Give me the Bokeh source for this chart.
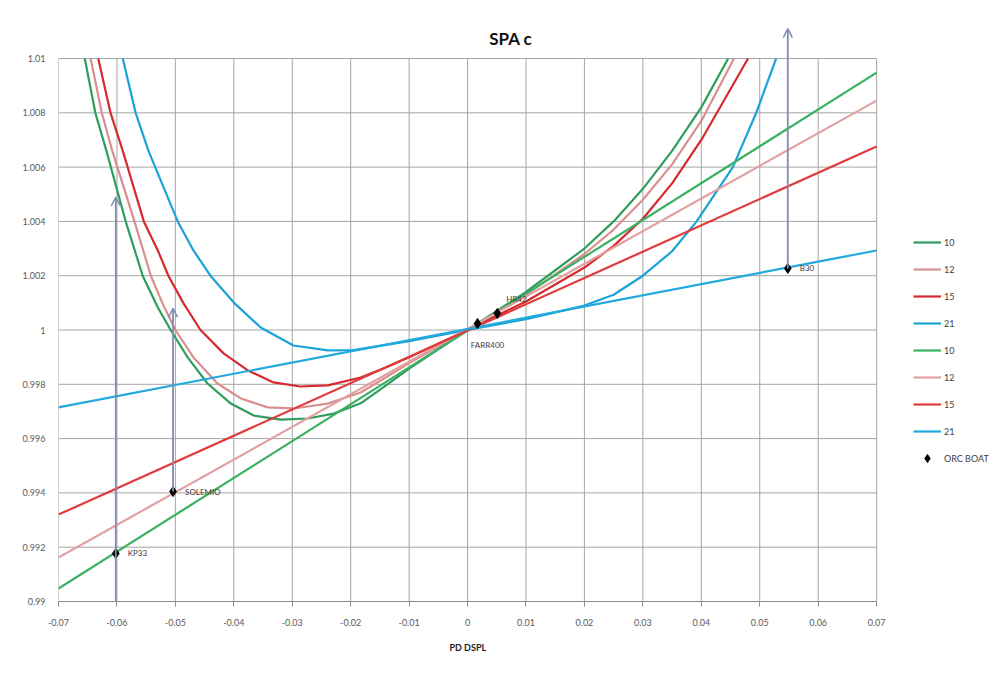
from bokeh.plotting import figure
from bokeh.models import (Range1d, FixedTicker, Legend, LegendItem, Arrow, OpenHead, Label, Title)
from bokeh.embed import file_html
from bokeh.resources import INLINE

# ---------------- data ----------------
chart_title = "SPA c"
x_title = "PD DSPL"
series_names = ["10", "12", "15", "21"]
marker_name = "ORC BOAT"

x_ticks = [-0.07, -0.06, -0.05, -0.04, -0.03, -0.02, -0.01, 0.0, 0.01, 0.02, 0.03, 0.04, 0.05, 0.06, 0.07]
x_tick_labels = ["-0.07", "-0.06", "-0.05", "-0.04", "-0.03", "-0.02", "-0.01", "0",
                 "0.01", "0.02", "0.03", "0.04", "0.05", "0.06", "0.07"]
y_ticks = [0.99, 0.992, 0.994, 0.996, 0.998, 1.0, 1.002, 1.004, 1.006, 1.008, 1.01]
y_tick_labels = ["0.99", "0.992", "0.994", "0.996", "0.998", "1", "1.002", "1.004", "1.006", "1.008", "1.01"]

# curved series
curve_x_10 = [-0.0655, -0.0637, -0.0618, -0.0585, -0.0556, -0.0530, -0.0508, -0.0479, -0.0445, -0.0405,
              -0.0366, -0.0320, -0.0274, -0.0229, -0.0183, -0.0140, -0.0100, 0.0,
              0.0100, 0.0200, 0.0250, 0.0300, 0.0350, 0.0400, 0.0446]
curve_y_10 = [1.010, 1.008, 1.0066, 1.004, 1.002, 1.00083, 1.000, 0.99899, 0.99803, 0.99729,
              0.99685, 0.9967, 0.99674, 0.99692, 0.9973, 0.99795, 0.99858, 1.0,
              1.0014, 1.0030, 1.0040, 1.0052, 1.0066, 1.0082, 1.010]
curve_x_12 = [-0.0645, -0.0626, -0.0608, -0.0570, -0.0542, -0.0522, -0.0500, -0.0469, -0.0428, -0.0388,
              -0.0342, -0.0298, -0.0239, -0.0183, -0.0140, -0.0100, 0.0,
              0.0100, 0.0200, 0.0250, 0.0300, 0.0350, 0.0400, 0.0456]
curve_y_12 = [1.010, 1.008, 1.0066, 1.004, 1.002, 1.00098, 1.000, 0.99899, 0.99803, 0.99748,
              0.99715, 0.99711, 0.99729, 0.9977, 0.99825, 0.99878, 1.0,
              1.0013, 1.0028, 1.0037, 1.0048, 1.0061, 1.0077, 1.010]
curve_x_15 = [-0.0632, -0.0611, -0.0590, -0.0554, -0.0530, -0.0512, -0.0486, -0.0457, -0.0417, -0.0376,
              -0.0332, -0.0286, -0.0239, -0.0183, -0.0140, -0.0100, 0.0,
              0.0100, 0.0200, 0.0250, 0.0300, 0.0350, 0.0400, 0.0440, 0.0480]
curve_y_15 = [1.010, 1.008, 1.0066, 1.004, 1.00293, 1.002, 1.00098, 1.000, 0.99913, 0.99851,
              0.99807, 0.99792, 0.99796, 0.99825, 0.99862, 0.999, 1.0,
              1.00105, 1.0023, 1.0031, 1.0041, 1.0054, 1.0070, 1.0085, 1.010]
curve_x_21 = [-0.0590, -0.0568, -0.0546, -0.0496, -0.0469, -0.0440, -0.0400, -0.0354, -0.0298, -0.0239,
              -0.0195, -0.0100, 0.0,
              0.0100, 0.0200, 0.0250, 0.0300, 0.0350, 0.0392, 0.0454, 0.0494, 0.0528]
curve_y_21 = [1.010, 1.008, 1.0066, 1.004, 1.00293, 1.002, 1.00101, 1.00009, 0.99943, 0.99925,
              0.99926, 0.99959, 1.0,
              1.0004, 1.0009, 1.0013, 1.0020, 1.0029, 1.0040, 1.0060, 1.0080, 1.010]

# straight series (values at the two ends of the x range)
line_x = [-0.07, 0.07]
line_y_10 = [0.99048, 1.00948]
line_y_12 = [0.99162, 1.00845]
line_y_15 = [0.9932, 1.00676]
line_y_21 = [0.99715, 1.00293]

# boats
boat_names = ["KP33", "SOLEMIO", "FARR400", "HR42", "B30"]
boat_x = [-0.0602, -0.0504, 0.0017, 0.0051, 0.0548]
boat_y = [0.99177, 0.99405, 1.00024, 1.00061, 1.00227]

# arrows (x, y start, y end)
arrow_x = [-0.0602, -0.0504, 0.0548]
arrow_y0 = [0.99, 0.99405, 1.00227]
arrow_y1 = [1.0049, 1.0008, 1.0111]

# ---------------- styles ----------------
curve_colors = ["#2f9e5c", "#d98f8f", "#d62a2e", "#1aa3d6"]
line_colors = ["#3bb062", "#e3a0a0", "#e03a3a", "#22a9de"]
FONT = "Lato"
grid_color = "#a6a6a6"
text_color = "#404040"

# the frame reaches past the last ticks (right: legend room, top: title and arrow room);
# axis and grid lines are limited to the tick span
p = figure(width=1005, height=676,
           x_range=Range1d(-0.07, 0.0912), y_range=Range1d(0.99, 1.0114),
           output_backend="svg", toolbar_location=None,
           min_border_left=58, min_border_right=5, min_border_top=20, min_border_bottom=75)

p.background_fill_color = "white"
p.border_fill_color = "white"
p.outline_line_color = None

p.xaxis.ticker = FixedTicker(ticks=x_ticks)
p.yaxis.ticker = FixedTicker(ticks=y_ticks)
p.xaxis.bounds = (x_ticks[0], x_ticks[-1])
p.xaxis.major_label_overrides = dict(zip(x_ticks, x_tick_labels))
p.yaxis.major_label_overrides = dict(zip(y_ticks, y_tick_labels))
p.xaxis.minor_tick_line_color = None
p.yaxis.minor_tick_line_color = None
p.xaxis.major_tick_in = 0
p.xaxis.major_tick_out = 5
p.yaxis.major_tick_in = 0
p.yaxis.major_tick_out = 0
p.xaxis.axis_line_color = "#8c8c8c"
p.yaxis.axis_line_color = None
p.xaxis.major_tick_line_color = "#8c8c8c"
for ax in (p.xaxis, p.yaxis):
    ax.major_label_text_font = FONT
    ax.major_label_text_font_size = "9px"
    ax.major_label_text_color = "#595959"
p.xaxis.major_label_standoff = 12
p.yaxis.major_label_standoff = 13

# x-axis title, centred under the tick span
p.add_layout(Title(text=x_title, align="left", offset=391, standoff=23,
                   text_font=FONT, text_font_size="9px", text_font_style="bold",
                   text_color="#222222"), "below")

# grid lines drawn only over the tick span
p.xgrid.grid_line_color = None
p.ygrid.grid_line_color = None
p.segment(x0=x_ticks, y0=[y_ticks[0]] * len(x_ticks), x1=x_ticks, y1=[y_ticks[-1]] * len(x_ticks),
          line_color=grid_color, line_width=1, level="underlay")
p.segment(x0=[x_ticks[0]] * len(y_ticks), y0=y_ticks, x1=[x_ticks[-1]] * len(y_ticks), y1=y_ticks,
          line_color=grid_color, line_width=1, level="underlay")

curve_xs = [curve_x_10, curve_x_12, curve_x_15, curve_x_21]
curve_ys = [curve_y_10, curve_y_12, curve_y_15, curve_y_21]
line_ys = [line_y_10, line_y_12, line_y_15, line_y_21]

curve_renderers = []
for xs, ys, c in zip(curve_xs, curve_ys, curve_colors):
    curve_renderers.append(p.line(xs, ys, line_color=c, line_width=2.2, line_join="round"))
line_renderers = []
for ys, c in zip(line_ys, line_colors):
    line_renderers.append(p.line(line_x, ys, line_color=c, line_width=2.2))

arrow_color = "#7f8db0"
for ax_, a0, a1 in zip(arrow_x, arrow_y0, arrow_y1):
    p.add_layout(Arrow(end=OpenHead(size=9, line_color=arrow_color, line_width=1.5),
                       x_start=ax_, y_start=a0, x_end=ax_, y_end=a1,
                       line_color=arrow_color, line_width=1.8))

boats = p.scatter(boat_x, boat_y, marker="diamond", size=10, fill_color="black", line_color="black")

label_offsets = [(12, 0, "left"), (12, 0, "left"), (10, -22, "center"), (19, 14, "center"), (12, 0, "left")]
for name, bx, by, (dx, dy, al) in zip(boat_names, boat_x, boat_y, label_offsets):
    p.add_layout(Label(x=bx, y=by, text=name, x_offset=dx, y_offset=dy,
                       text_align=al, text_baseline="middle",
                       text_font=FONT, text_font_size="8px", text_color=text_color))

p.add_layout(Label(x=0.0074, y=1.01074, text=chart_title, text_align="center", text_baseline="middle",
                   text_font=FONT, text_font_size="17px", text_font_style="bold",
                   text_color="#111111"))

items = []
for n, r in zip(series_names, curve_renderers):
    items.append(LegendItem(label=n, renderers=[r]))
for n, r in zip(series_names, line_renderers):
    items.append(LegendItem(label=n, renderers=[r]))
items.append(LegendItem(label=marker_name, renderers=[boats]))

legend = Legend(items=items, location=(855, 133), border_line_color=None,
                background_fill_alpha=0, glyph_width=28, glyph_height=20, label_height=20,
                spacing=7, padding=10, margin=0, label_standoff=3,
                label_text_font=FONT, label_text_font_size="9px", label_text_color="#404040")
p.add_layout(legend)

open("out.html", "w").write(file_html(p, INLINE))
